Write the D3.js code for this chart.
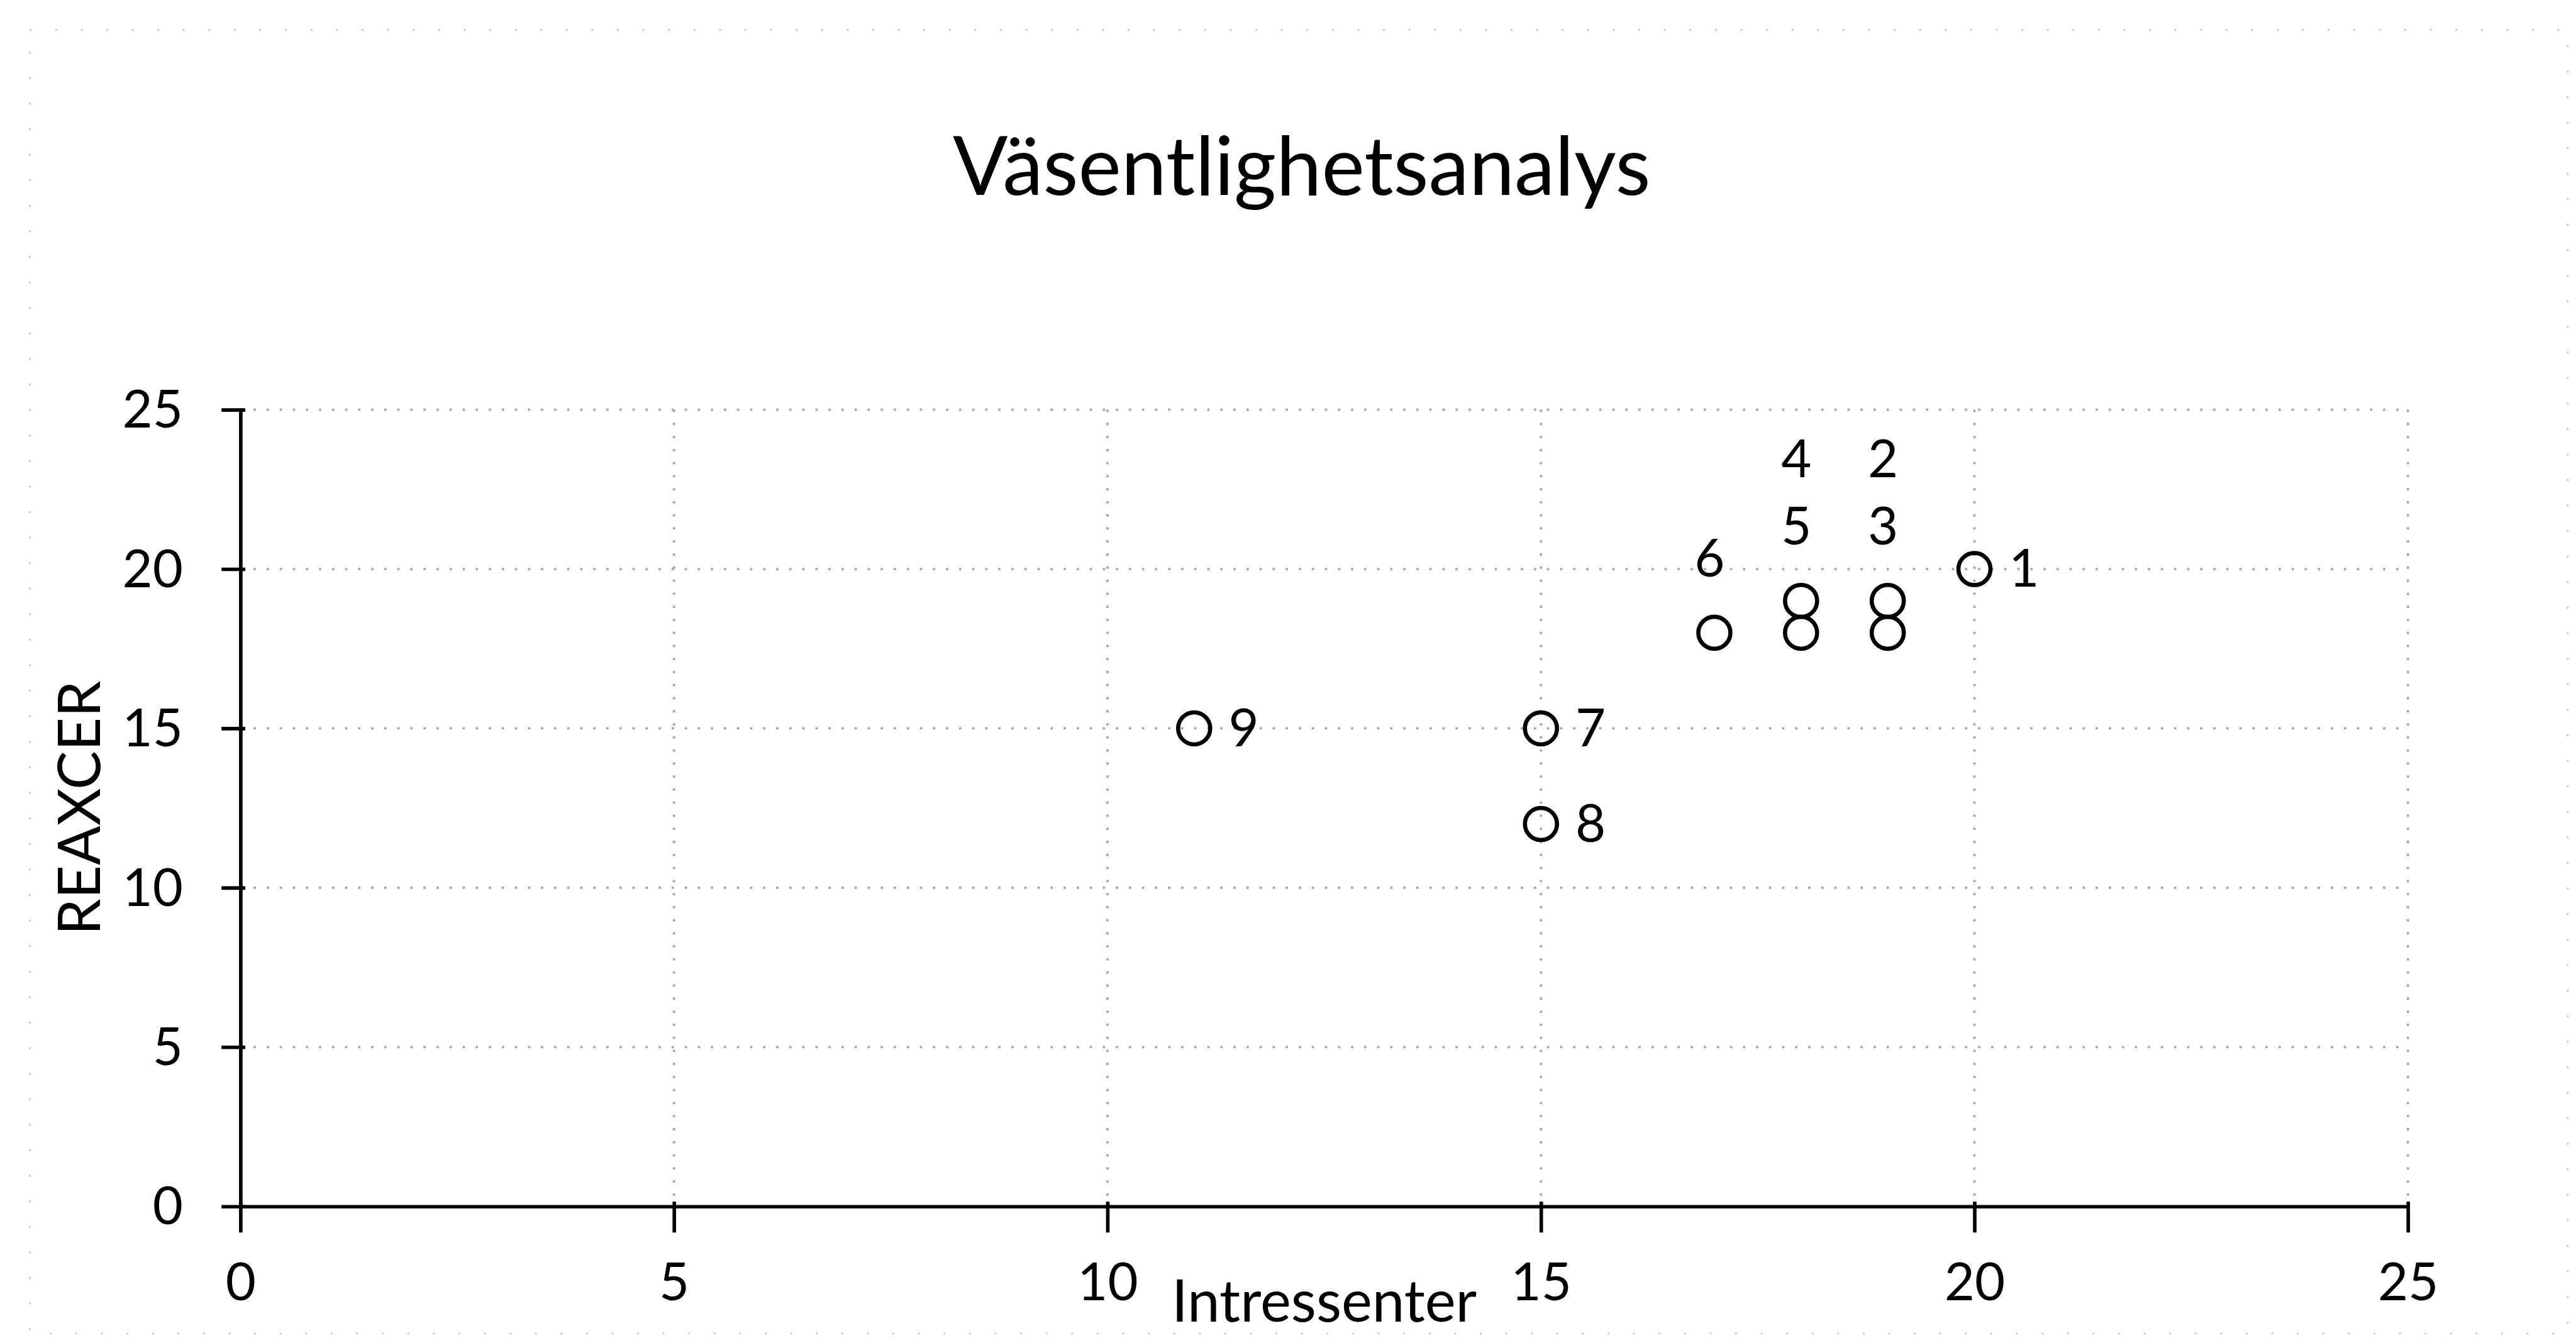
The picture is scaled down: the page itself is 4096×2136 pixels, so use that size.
<!DOCTYPE html>
<html>

<head>
    <meta charset='utf-8'>
    <title>Väsentlighetsanalys</title>
    <script type='text/javascript' src='https://cdn.jsdelivr.net/npm/d3@7'></script>
    <style>
        html, body { margin: 0; padding: 0; background: #fff; }
        svg { display: block; }
        text { font-family: Lato, 'Open Sans', sans-serif; fill: #000; }
    </style>
</head>

<body>
    <svg width='4096' height='2136' viewBox='0 0 4338 2262'></svg>
    <script type='text/javascript'>

        // punkterna i väsentlighetsanalysen
        const ids = [1, 2, 3, 4, 5, 6, 7, 8, 9]
        const intressenter = [20, 19, 19, 18, 18, 17, 15, 15, 11]
        const reaxcer = [20, 18, 19, 18, 19, 18, 15, 12, 15]
        const labelSide = ['right', 'above', 'above', 'above', 'above', 'above', 'right', 'right', 'right']
        const ticks = [0, 5, 10, 15, 20, 25]

        const svg = d3.select('svg')

        // plot area in reference pixels (viewBox does the 0.944 scaling)
        const plotLeft = 405, plotRight = 4055, plotTop = 690, plotBottom = 2032

        const x = d3.scaleLinear().domain([0, 25]).range([plotLeft, plotRight])
        const y = d3.scaleLinear().domain([0, 25]).range([plotBottom, plotTop])

        // faint chart-area border
        svg.append('rect')
            .attr('x', 50).attr('y', 50)
            .attr('width', 4274).attr('height', 2196)
            .attr('fill', 'none')
            .attr('stroke', '#c4c4c4')
            .attr('stroke-width', 3)
            .attr('stroke-dasharray', '3 40')

        // title
        svg.append('text')
            .attr('x', 2192).attr('y', 328)
            .attr('text-anchor', 'middle')
            .attr('font-size', 137)
            .text('Väsentlighetsanalys')

        // gridlines (scanned -> faint dotted look)
        const grid = svg.append('g')
            .attr('stroke', '#a8a8a8')
            .attr('stroke-width', 4)
            .attr('stroke-dasharray', '4 18')
        grid.selectAll('.gx')
            .data(ticks.filter(d => d > 0))
            .enter().append('line')
            .attr('x1', d => x(d)).attr('x2', d => x(d))
            .attr('y1', plotTop).attr('y2', plotBottom)
        grid.selectAll('.gy')
            .data(ticks.filter(d => d > 0))
            .enter().append('line')
            .attr('x1', plotLeft).attr('x2', plotRight)
            .attr('y1', d => y(d)).attr('y2', d => y(d))

        // axes with cross tick marks
        const xAxis = svg.append('g')
            .attr('transform', `translate(0,${plotBottom})`)
            .call(d3.axisBottom(x).tickValues(ticks).tickSizeInner(44).tickSizeOuter(0).tickPadding(52))
        xAxis.selectAll('.tick line').attr('y1', -8)

        const yAxis = svg.append('g')
            .attr('transform', `translate(${plotLeft},0)`)
            .call(d3.axisLeft(y).tickValues(ticks).tickSizeInner(32).tickSizeOuter(0).tickPadding(65))
        yAxis.selectAll('.tick line').attr('x1', 8)

        svg.selectAll('.domain, .tick line')
            .attr('stroke', '#000')
            .attr('stroke-width', 6)
        svg.selectAll('.tick text')
            .attr('font-family', 'Lato, sans-serif')
            .attr('font-size', 88)
            .attr('fill', '#000')
        yAxis.selectAll('.tick text').attr('dy', '0.34em')

        // axis titles
        svg.append('text')
            .attr('x', (plotLeft + plotRight) / 2).attr('y', 2226)
            .attr('text-anchor', 'middle')
            .attr('font-size', 98)
            .text('Intressenter')

        svg.append('text')
            .attr('transform', `translate(168,${(plotTop + plotBottom) / 2}) rotate(-90)`)
            .attr('text-anchor', 'middle')
            .attr('font-size', 98)
            .text('REAXCER')

        // markers
        const points = ids.map((id, i) => ({ id, x: intressenter[i], y: reaxcer[i], side: labelSide[i] }))

        svg.append('g').selectAll('circle')
            .data(points)
            .enter().append('circle')
            .attr('cx', d => x(d.x))
            .attr('cy', d => y(d.y))
            .attr('r', 27)
            .attr('fill', 'none')
            .attr('stroke', '#000')
            .attr('stroke-width', 7)

        // labels placed above are stacked over the highest marker in the same column
        const stackIndex = {}
        points.filter(d => d.side === 'above')
            .sort((a, b) => b.id - a.id)
            .forEach(d => {
                const col = points.filter(p => p.x === d.x)
                d.topY = d3.max(col, p => p.y)
                d.level = stackIndex[d.x] = (stackIndex[d.x] === undefined ? 0 : stackIndex[d.x] + 1)
            })

        svg.append('g').selectAll('text')
            .data(points)
            .enter().append('text')
            .attr('font-size', 88)
            .attr('text-anchor', d => d.side === 'right' ? 'start' : 'middle')
            .attr('x', d => d.side === 'right' ? x(d.x) + 58 : x(d.x) - 8)
            .attr('y', d => d.side === 'right' ? y(d.y) : y(d.topY) - 95 - d.level * 113)
            .attr('dy', d => d.side === 'right' ? '0.34em' : 0)
            .text(d => d.id)
    </script>
</body>

</html>
